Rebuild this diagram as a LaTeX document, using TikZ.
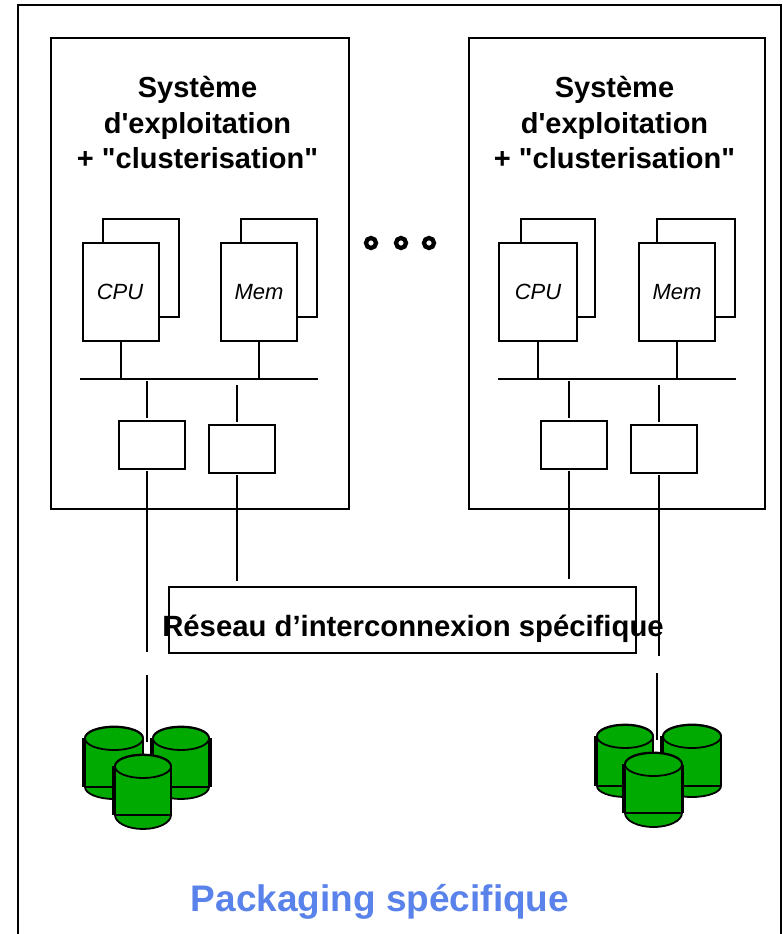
\documentclass[tikz,border=0pt]{standalone}
\usepackage{fontspec}
\setmainfont{Liberation Sans}
\newfontfamily\pf{Liberation Sans}
\tikzset{x=1pt,y=-1pt,
 ln/.style={black,line width=1.8pt},
 box/.style={ln,fill=white},
 title/.style={font=\pf\fontsize{29}{35.5}\selectfont\bfseries,align=center,inner sep=0pt,black},
 ital/.style={font=\fontsize{22}{24}\selectfont\itshape,inner sep=0pt},
 dot/.style={circle,draw=black,line width=4.3pt,minimum size=10pt,inner sep=0pt},
 frm/.style={draw=black,line width=1.8pt,inner sep=0pt},
 adapter/.style={frm,minimum width=66pt,minimum height=48pt}}
\definecolor{dg}{RGB}{0,170,0}
\definecolor{pk}{RGB}{90,130,235}
\newcommand{\cyl}[5]{% xl top xr liney bottom
 \fill[black] (#1-3,#2+11) rectangle (#1+2,#4);
 \path[ln,fill=dg,draw] (#1,#2+11) -- (#1,#4) arc[start angle=180,end angle=0,x radius={(#3-#1)/2},y radius={#5-#4}] -- (#3,#2+11) arc[start angle=0,end angle=-180,x radius={(#3-#1)/2},y radius=11.5] -- cycle;
 \draw[ln] (#1,#4) -- (#3,#4);
 \draw[ln,fill=dg] ({(#1+#3)/2},#2+11.5) ellipse[x radius={(#3-#1)/2},y radius=11.5];
}
\newcommand{\ttxt}{Système\\d'exploitation\\+ "clusterisation"}
\begin{document}
\begin{tikzpicture}
\useasboundingbox (0,0) rectangle (782,934);
\fill[white] (0,0) rectangle (782,934);
\coordinate (fa) at (18,940); \coordinate (fb) at (18,5); \coordinate (fc) at (781,5); \coordinate (fd) at (781,940);
\draw[ln] (fa) -- (fb) -- (fc) -- (fd);
\node[frm,minimum width=298pt,minimum height=471pt] (ml) at (200,273.5) {};
\node[title] (tl) at (197.5,123) {\ttxt};
\node[frm,minimum width=296pt,minimum height=471pt] (mr) at (617,273.5) {};
\node[title] (tr) at (614.5,123) {\ttxt};
% left contents
\draw[box] (103,219) rectangle (179,317);
\node[box,draw,minimum width=76pt,minimum height=98pt,inner sep=0pt] (cpul) at (121,292) {};
\node[ital] (cpult) at (120,292) {CPU};
\draw[box] (241,219) rectangle (317,317);
\node[box,draw,minimum width=76pt,minimum height=98pt,inner sep=0pt] (meml) at (259,292) {};
\node[ital] (memlt) at (259,292) {Mem};
\coordinate (busla) at (80,379); \coordinate (buslb) at (318,379);
\draw[ln] (busla) -- (buslb);
\draw[ln] (cpul.south) -- (121,379);
\draw[ln] (meml.south) -- (259,379);
\node[adapter] (al) at (152,445) {};
\node[adapter] (bl) at (242,449) {};
\draw[ln] (147,381) -- (147,418);
\draw[ln] (237,385) -- (237,422);
\draw[ln] (147,471) -- (147,652);
\draw[ln] (237,475) -- (237,581);
% right contents
\draw[box] (521,219) rectangle (595,317);
\node[box,draw,minimum width=78pt,minimum height=98pt,inner sep=0pt] (cpur) at (538,292) {};
\node[ital] (cpurt) at (538,292) {CPU};
\draw[box] (657,219) rectangle (735,317);
\node[box,draw,minimum width=76pt,minimum height=98pt,inner sep=0pt] (memr) at (677,292) {};
\node[ital] (memrt) at (677,292) {Mem};
\coordinate (busra) at (498,379); \coordinate (busrb) at (736,379);
\draw[ln] (busra) -- (busrb);
\draw[ln] (cpur.south) -- (538,379);
\draw[ln] (memr.south) -- (677,379);
\node[adapter] (ar) at (574,445) {};
\node[adapter] (br) at (664,449) {};
\draw[ln] (569,381) -- (569,418);
\draw[ln] (659,385) -- (659,422);
\draw[ln] (569,471) -- (569,579);
\draw[ln] (659,475) -- (659,656);
% dots
\node[dot] (d1) at (371,243) {};
\node[dot] (d2) at (401,243) {};
\node[dot] (d3) at (429,243) {};
% network
\node[frm,minimum width=467pt,minimum height=66pt] (net) at (402.5,620) {};
\node[title,anchor=base,font=\fontsize{29.3}{40}\selectfont\bfseries] (nett) at (413,636) {Réseau d’interconnexion spécifique};
% lower stubs
\draw[ln] (147,675) -- (147,742);
\draw[ln] (657,673) -- (657,740);
% disks
\cyl{85}{727}{143}{787}{799}
\cyl{153}{727}{209}{787}{799}
\fill[black] (208,738) rectangle (212,787);
\cyl{115}{755}{171}{815}{829}
\cyl{597}{725}{653}{786}{797}
\cyl{663}{725}{721}{786}{797}
\cyl{625}{753}{682}{813}{827}
\fill[black] (681,765) rectangle (684,813);
\node[font=\fontsize{37}{40}\selectfont\bfseries,text=pk,inner sep=0pt,anchor=base] (pkg) at (380,911) {Packaging spécifique};
\end{tikzpicture}
\end{document}
